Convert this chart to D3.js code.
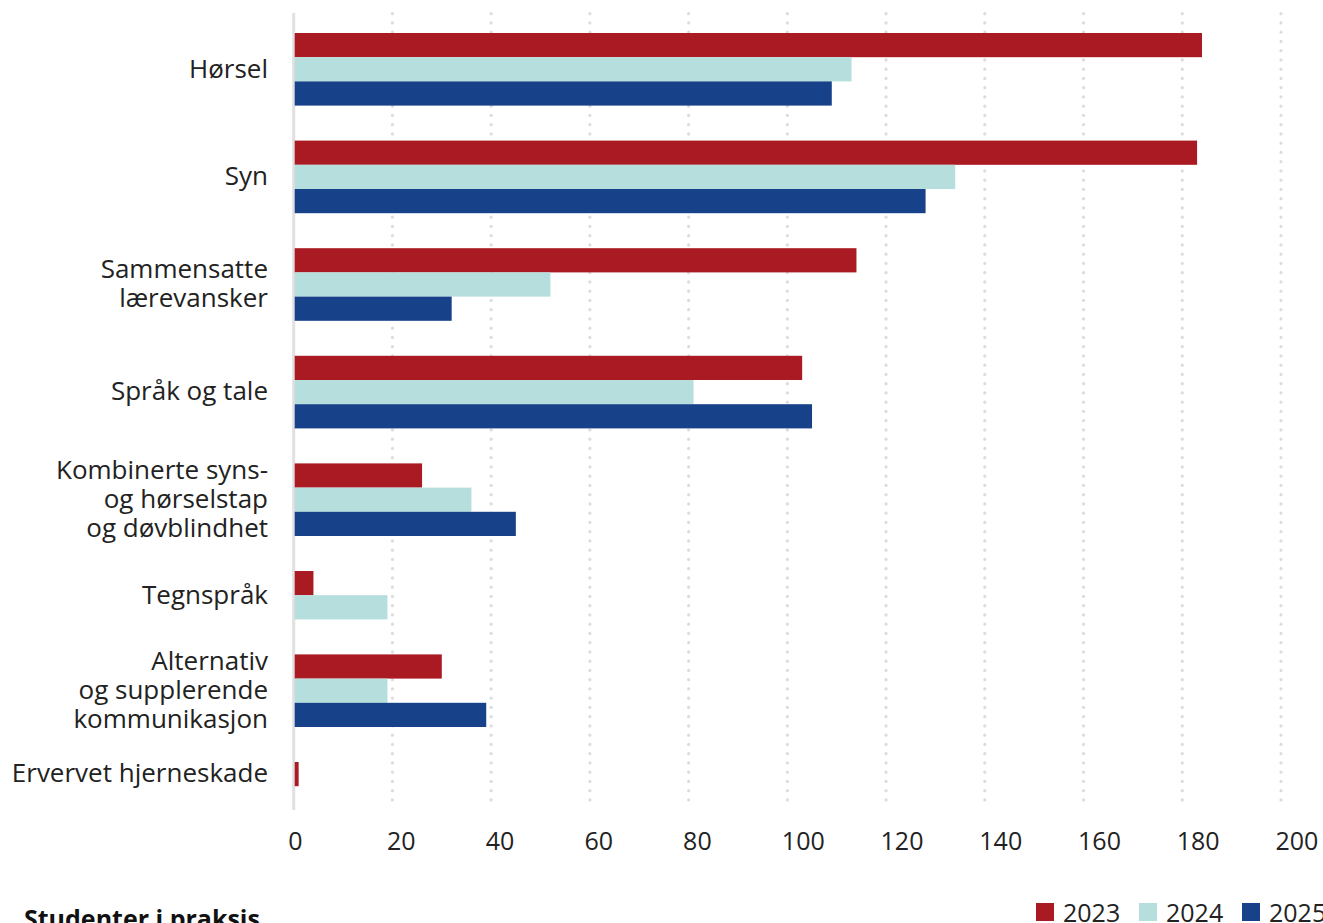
<!DOCTYPE html>
<html>
<head>
<meta charset="utf-8">
<script src="https://cdn.jsdelivr.net/npm/d3@7"></script>
<style>
  html, body { margin: 0; padding: 0; background: #fff; overflow: hidden; }
  svg { display: block; font-family: "Open Sans", "Noto Sans", sans-serif; }
</style>
</head>
<body>
<svg id="chart" width="1323" height="923"></svg>
<script>
// ---- data ----
const categories = [
  ["Hørsel"],
  ["Syn"],
  ["Sammensatte", "lærevansker"],
  ["Språk og tale"],
  ["Kombinerte syns-", "og hørselstap", "og døvblindhet"],
  ["Tegnspråk"],
  ["Alternativ", "og supplerende", "kommunikasjon"],
  ["Ervervet hjerneskade"]
];
const years = ["2023", "2024", "2025"];
const values2023 = [184, 183, 114, 103, 26, 4, 30, 1];
const values2024 = [113, 134, 52, 81, 36, 19, 19, 0];
const values2025 = [109, 128, 32, 105, 45, 0, 39, 0];
const colors = ["#A91A22", "#B5DEDC", "#174189"];
const xTicks = [0, 20, 40, 60, 80, 100, 120, 140, 160, 180, 200];
const title = "Studenter i praksis";

// ---- layout ----
const svg = d3.select("#chart");
const series = [values2023, values2024, values2025];

const x = d3.scaleLinear().domain([0, 200]).range([293.7, 1281]);

// each category takes (number of non-zero bars) slots + a gap
const gapUnits = 35 / 24.2;
const groups = categories.map((lines, i) => {
  const bars = series.map((s, k) => ({ year: years[k], k, v: s[i] })).filter(b => b.v > 0);
  return { lines, bars };
});
let acc = 0;
groups.forEach(g => { g.start = acc; acc += g.bars.length + gapUnits; });
const totalUnits = acc;
const y = d3.scaleLinear().domain([0, totalUnits]).range([15.5, 15.5 + totalUnits * 24.2]);

// gridlines
svg.append("g").selectAll("line")
  .data(xTicks.filter(t => t > 0))
  .join("line")
  .attr("x1", d => x(d)).attr("x2", d => x(d))
  .attr("y1", 13.7).attr("y2", 808)
  .attr("stroke", "#dcdcdc")
  .attr("stroke-width", 3.2)
  .attr("stroke-linecap", "round")
  .attr("stroke-dasharray", "0 9.25");

// axis line at zero
svg.append("line")
  .attr("x1", x(0)).attr("x2", x(0))
  .attr("y1", 13).attr("y2", 810)
  .attr("stroke", "#e2e0e0")
  .attr("stroke-width", 3);

// bars
const gSel = svg.append("g").selectAll("g")
  .data(groups).join("g");
gSel.selectAll("rect")
  .data(g => g.bars.map((b, j) => ({ ...b, slot: g.start + gapUnits / 2 + j })))
  .join("rect")
  .attr("x", x(0) + 1)
  .attr("y", d => y(d.slot))
  .attr("width", d => x(d.v) - x(0) - 1)
  .attr("height", d => y(d.slot + 1) - y(d.slot))
  .attr("fill", d => colors[d.k]);

// category labels
const lineH = 29;
gSel.append("text")
  .attr("text-anchor", "end")
  .attr("fill", "#222")
  .attr("font-size", 26)
  .each(function (g) {
    const cy = y(g.start + gapUnits / 2 + g.bars.length / 2) - 1;
    const n = g.lines.length;
    d3.select(this).selectAll("tspan")
      .data(g.lines).join("tspan")
      .attr("x", 268)
      .attr("y", (d, i) => cy + (i - (n - 1) / 2) * lineH)
      .attr("dy", "0.36em")
      .text(d => d);
  });

// x axis labels
const axis = d3.axisBottom(x).tickValues(xTicks).tickSize(0).tickFormat(d3.format("d"));
const ax = svg.append("g").attr("transform", "translate(0,850)").call(axis);
ax.select(".domain").remove();
ax.selectAll("text")
  .attr("y", 0).attr("dy", 0)
  .attr("dx", -6)
  .attr("text-anchor", "start")
  .attr("fill", "#222")
  .attr("font-size", 25)
  .attr("font-family", "\"Open Sans\", sans-serif");

// legend
const leg = svg.append("g").attr("transform", "translate(1036,903)")
  .selectAll("g").data(years).join("g")
  .attr("transform", (d, i) => `translate(${i * 103},0)`);
leg.append("rect").attr("width", 18).attr("height", 18).attr("fill", (d, i) => colors[i]);
leg.append("text").attr("x", 27).attr("y", 18.5)
  .attr("font-size", 25).attr("fill", "#222").text(d => d);

// bottom title (cut off by the frame)
svg.append("text")
  .attr("x", 24).attr("y", 928)
  .attr("font-size", 25).attr("font-weight", 700).attr("fill", "#111")
  .text(title);
</script>
</body>
</html>
